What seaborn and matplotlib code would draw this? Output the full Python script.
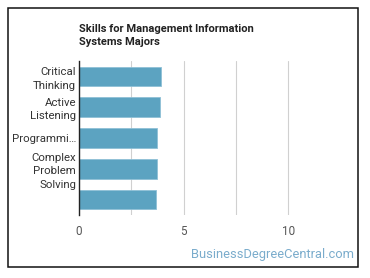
import matplotlib
matplotlib.use("Agg")
import matplotlib.pyplot as plt
import seaborn as sns
import pandas as pd
from matplotlib.patches import Rectangle

# data
skills = ["Critical\nThinking", "Active\nListening", "Programmi\u2026",
          "Complex\nProblem\nSolving", ""]
scores = [3.92, 3.87, 3.72, 3.72, 3.67]

df = pd.DataFrame({"skill": skills, "score": scores})

sns.set_theme(style="white")
plt.rcParams['font.family'] = ['Roboto', 'DejaVu Sans']

fig = plt.figure(figsize=(3.70, 2.78), dpi=100)
ax = fig.add_axes([0.2135, 0.2266, 0.707, 0.554])

sns.barplot(data=df, x="score", y="skill", orient="h", color="#5ca3c1",
            saturation=1, width=0.63, ax=ax, edgecolor="#8fc0d6", linewidth=0.6)

ax.set_xlim(0, 12.5)
ax.set_xticks([0, 5, 10])
ax.set_xticks([2.5, 7.5], minor=True)
ax.grid(axis="x", which="both", color="#d0d0d0", linewidth=0.8)
ax.set_axisbelow(True)
ax.set_xlabel("")
ax.set_ylabel("")
for s in ["top", "right", "bottom"]:
    ax.spines[s].set_visible(False)
ax.spines["left"].set_color("#222222")
ax.spines["left"].set_linewidth(1.0)
ax.tick_params(axis="x", length=0, pad=7, labelsize=8.4, labelcolor="#555555")
ax.tick_params(axis="x", which="minor", length=0)
ax.tick_params(axis="y", length=0, pad=2, labelsize=8.2, labelcolor="#333333")
for lbl in ax.get_yticklabels():
    lbl.set_linespacing(1.4)

fig.text(0.2135, 0.912, "Skills for Management Information\nSystems Majors",
         ha="left", va="top", fontsize=8.0, fontweight="bold", color="#222222",
         linespacing=1.35)

fig.text(0.958, 0.083, "BusinessDegreeCentral.com", ha="right", va="center",
         fontsize=9.3, color="#7aaccc")

fig.patches.append(Rectangle((0.0203, 0.0396), 0.9473, 0.9334, transform=fig.transFigure,
                             fill=False, edgecolor="#111111", linewidth=1.1))

fig.savefig("out.png", dpi=100)
